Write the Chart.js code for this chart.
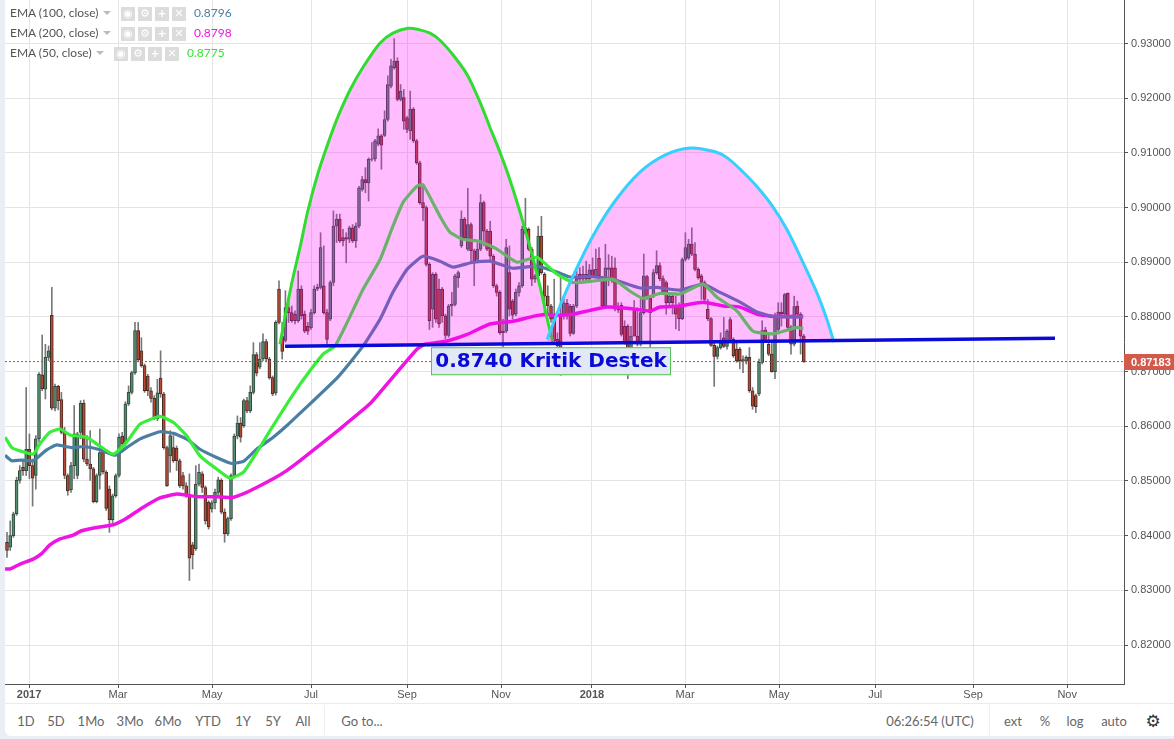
<!DOCTYPE html>
<html>
<head>
<meta charset="utf-8">
<title>EMA chart</title>
<script src="https://cdn.jsdelivr.net/npm/chart.js@4"></script>
<style>
  html, body { margin: 0; padding: 0; background: #eaeff6; overflow: hidden; }
  #page { position: relative; width: 1174px; height: 739px; font-family: Lato, "Liberation Sans", sans-serif; }
  canvas { position: absolute; left: 5px; top: 0; background: #fff; }
  #bar { position: absolute; left: 5px; top: 703px; width: 1169px; height: 33px; background: #fff; border-top: 1px solid #e8ecf0; box-sizing: border-box; border-bottom-left-radius: 6px; }
  .tb { position: absolute; top: 721px; transform: translate(-50%, -50%); font-size: 13px; color: #666; white-space: nowrap; }
  .sep { position: absolute; top: 705px; width: 1px; height: 30px; background: #eceff3; }
  .lg { position: absolute; font-size: 12px; color: #555; white-space: nowrap; line-height: 14px; }
  .ic { position: absolute; width: 14px; height: 14px; background: #dcdcdc; color: #fff; font: bold 11px/14px "DejaVu Sans"; text-align: center; }
  .tri { position: absolute; width: 0; height: 0; border-left: 4px solid transparent; border-right: 4px solid transparent; border-top: 4px solid #bbb; }
</style>
</head>
<body>
<div id="page">
  <canvas id="c" width="1169" height="703"></canvas>
  <div id="bar"></div>
</div>
<script>
// candles, one every two days or so
var opens = [
0.8388,0.8379,0.8400,0.8440,0.8501,0.8525,0.8519,0.8558,0.8528,0.8510,
0.8577,0.8694,0.8668,0.8726,0.8803,0.8633,0.8673,0.8649,0.8589,0.8510,
0.8484,0.8528,0.8510,0.8589,0.8642,0.8540,0.8531,0.8522,0.8462,0.8510,
0.8557,0.8516,0.8485,0.8429,0.8473,0.8510,0.8582,0.8568,0.8641,0.8662,
0.8698,0.8775,0.8738,0.8711,0.8692,0.8665,0.8651,0.8614,0.8688,0.8659,
0.8561,0.8546,0.8561,0.8560,0.8537,0.8510,0.8491,0.8473,0.8383,0.8376,
0.8494,0.8513,0.8488,0.8461,0.8449,0.8460,0.8479,0.8501,0.8443,0.8403,
0.8431,0.8510,0.8582,0.8606,0.8601,0.8647,0.8628,0.8662,0.8731,0.8708,
0.8723,0.8755,0.8723,0.8689,0.8661,0.8851,0.8764,0.8757,0.8817,0.8808,
0.8805,0.8793,0.8851,0.8805,0.8783,0.8780,0.8808,0.8851,0.8854,0.8857,
0.8808,0.8796,0.8863,0.8966,0.8979,0.8945,0.8945,0.8942,0.8963,0.8939,
0.8966,0.9033,0.9051,0.9045,0.9088,0.9089,0.9116,0.9131,0.9132,0.9161,
0.9222,0.9256,0.9268,0.9198,0.9201,0.9164,0.9140,0.9180,0.9122,0.9082,
0.9009,0.9000,0.8896,0.8814,0.8878,0.8851,0.8851,0.8802,0.8766,0.8820,
0.8823,0.8872,0.8930,0.8979,0.8924,0.8969,0.8921,0.8905,0.8924,0.9009,
0.8957,0.8957,0.8911,0.8857,0.8845,0.8774,0.8774,0.8881,0.8829,0.8805,
0.8845,0.8857,0.8954,0.8960,0.8924,0.8869,0.8875,0.8948,0.8878,0.8838,
0.8820,0.8802,0.8759,0.8802,0.8802,0.8825,0.8820,0.8770,0.8820,0.8878,
0.8869,0.8878,0.8869,0.8886,0.8875,0.8907,0.8869,0.8820,0.8887,0.8890,
0.8890,0.8820,0.8821,0.8783,0.8783,0.8725,0.8815,0.8765,0.8750,0.8808,
0.8874,0.8835,0.8838,0.8881,0.8894,0.8870,0.8863,0.8826,0.8838,0.8820,
0.8820,0.8797,0.8905,0.8908,0.8933,0.8915,0.8887,0.8875,0.8863,0.8814,
0.8797,0.8748,0.8728,0.8744,0.8762,0.8746,0.8795,0.8759,0.8741,0.8741,
0.8722,0.8719,0.8726,0.8665,0.8656,0.8659,0.8717,0.8776,0.8750,0.8732,
0.8700,0.8777,0.8809,0.8805,0.8843,0.8781,0.8750,0.8820,0.8805,0.8765];
var closes = [
0.8373,0.8400,0.8440,0.8501,0.8519,0.8519,0.8558,0.8528,0.8505,0.8577,
0.8695,0.8669,0.8726,0.8738,0.8633,0.8673,0.8647,0.8589,0.8510,0.8482,
0.8528,0.8586,0.8586,0.8642,0.8540,0.8531,0.8522,0.8462,0.8510,0.8552,
0.8517,0.8450,0.8429,0.8473,0.8510,0.8580,0.8568,0.8641,0.8662,0.8698,
0.8775,0.8722,0.8711,0.8665,0.8665,0.8651,0.8614,0.8661,0.8659,0.8561,
0.8491,0.8583,0.8537,0.8537,0.8491,0.8491,0.8473,0.8359,0.8365,0.8494,
0.8516,0.8488,0.8427,0.8416,0.8460,0.8479,0.8502,0.8443,0.8403,0.8431,
0.8510,0.8582,0.8606,0.8580,0.8647,0.8628,0.8662,0.8731,0.8697,0.8723,
0.8755,0.8723,0.8689,0.8659,0.8790,0.8790,0.8737,0.8817,0.8808,0.8793,
0.8793,0.8851,0.8802,0.8774,0.8774,0.8808,0.8851,0.8854,0.8927,0.8808,
0.8759,0.8863,0.8966,0.8979,0.8939,0.8939,0.8942,0.8963,0.8939,0.8966,
0.9036,0.9051,0.9045,0.9088,0.9089,0.9122,0.9131,0.9114,0.9161,0.9225,
0.9259,0.9268,0.9198,0.9213,0.9158,0.9143,0.9180,0.9122,0.9082,0.9009,
0.9000,0.8896,0.8793,0.8878,0.8796,0.8787,0.8802,0.8766,0.8820,0.8823,
0.8875,0.8881,0.8979,0.8945,0.8969,0.8921,0.8902,0.8924,0.9009,0.8957,
0.8924,0.8911,0.8857,0.8845,0.8771,0.8771,0.8927,0.8814,0.8803,0.8845,
0.8857,0.8960,0.8963,0.8924,0.8869,0.8875,0.8948,0.8881,0.8838,0.8820,
0.8796,0.8756,0.8747,0.8738,0.8826,0.8805,0.8770,0.8820,0.8870,0.8869,
0.8878,0.8869,0.8886,0.8875,0.8887,0.8875,0.8820,0.8890,0.8890,0.8869,
0.8814,0.8813,0.8768,0.8753,0.8725,0.8765,0.8765,0.8750,0.8808,0.8875,
0.8835,0.8808,0.8881,0.8894,0.8870,0.8845,0.8826,0.8838,0.8826,0.8805,
0.8797,0.8905,0.8927,0.8933,0.8915,0.8887,0.8872,0.8863,0.8832,0.8797,
0.8748,0.8728,0.8744,0.8752,0.8746,0.8774,0.8759,0.8729,0.8720,0.8720,
0.8719,0.8726,0.8665,0.8637,0.8636,0.8717,0.8775,0.8759,0.8732,0.8700,
0.8803,0.8809,0.8805,0.8841,0.8781,0.8750,0.8819,0.8805,0.8765,0.87183];
var highs = [
0.8406,0.8427,0.8443,0.8507,0.8528,0.8540,0.8671,0.8586,0.8540,0.8583,
0.8698,0.8767,0.8750,0.8747,0.8854,0.8677,0.8675,0.8662,0.8598,0.8513,
0.8534,0.8638,0.8589,0.8647,0.8648,0.8583,0.8592,0.8525,0.8513,0.8595,
0.8560,0.8519,0.8491,0.8476,0.8513,0.8586,0.8589,0.8645,0.8674,0.8701,
0.8790,0.8790,0.8762,0.8714,0.8695,0.8671,0.8656,0.8686,0.8738,0.8662,
0.8564,0.8592,0.8583,0.8564,0.8540,0.8516,0.8497,0.8513,0.8388,0.8528,
0.8531,0.8517,0.8491,0.8464,0.8464,0.8485,0.8507,0.8504,0.8449,0.8434,
0.8513,0.8586,0.8619,0.8616,0.8650,0.8653,0.8674,0.8753,0.8735,0.8753,
0.8769,0.8759,0.8726,0.8692,0.8793,0.8866,0.8790,0.8848,0.8835,0.8820,
0.8811,0.8884,0.8857,0.8811,0.8790,0.8814,0.8857,0.8860,0.8954,0.8930,
0.8814,0.8866,0.8994,0.8988,0.8988,0.8960,0.8954,0.8966,0.8969,0.8972,
0.9039,0.9057,0.9073,0.9091,0.9119,0.9125,0.9144,0.9134,0.9177,0.9241,
0.9271,0.9309,0.9274,0.9225,0.9216,0.9167,0.9213,0.9183,0.9125,0.9085,
0.9039,0.9003,0.8899,0.8881,0.8881,0.8869,0.8854,0.8805,0.8823,0.8845,
0.8878,0.8884,0.8994,0.8982,0.9035,0.8972,0.8924,0.8936,0.9024,0.9012,
0.8960,0.8975,0.8914,0.8860,0.8848,0.8796,0.8942,0.8930,0.8832,0.8851,
0.8863,0.8966,0.9017,0.8963,0.8927,0.8878,0.8966,0.8984,0.8881,0.8857,
0.8823,0.8869,0.8771,0.8872,0.8838,0.8832,0.8823,0.8823,0.8884,0.8890,
0.8893,0.8902,0.8896,0.8908,0.8924,0.8927,0.8872,0.8933,0.8914,0.8911,
0.8908,0.8826,0.8826,0.8793,0.8786,0.8783,0.8830,0.8817,0.8832,0.8915,
0.8876,0.8838,0.8887,0.8921,0.8899,0.8875,0.8866,0.8845,0.8841,0.8838,
0.8826,0.8908,0.8954,0.8942,0.8963,0.8936,0.8890,0.8878,0.8866,0.8832,
0.8799,0.8753,0.8747,0.8771,0.8799,0.8777,0.8799,0.8762,0.8753,0.8744,
0.8729,0.8729,0.8744,0.8671,0.8659,0.8723,0.8793,0.8781,0.8768,0.8753,
0.8807,0.8826,0.8826,0.8843,0.8844,0.8784,0.8838,0.8829,0.8808,0.8768];
var lows = [
0.8360,0.8373,0.8397,0.8437,0.8496,0.8510,0.8510,0.8504,0.8454,0.8485,
0.8571,0.8665,0.8650,0.8720,0.8630,0.8628,0.8630,0.8586,0.8504,0.8474,
0.8479,0.8504,0.8504,0.8577,0.8535,0.8528,0.8501,0.8460,0.8460,0.8485,
0.8513,0.8446,0.8406,0.8424,0.8470,0.8507,0.8561,0.8565,0.8638,0.8659,
0.8695,0.8718,0.8708,0.8662,0.8656,0.8644,0.8612,0.8610,0.8653,0.8558,
0.8490,0.8516,0.8534,0.8519,0.8488,0.8485,0.8470,0.8318,0.8339,0.8373,
0.8491,0.8479,0.8421,0.8412,0.8443,0.8449,0.8473,0.8440,0.8388,0.8400,
0.8428,0.8507,0.8577,0.8571,0.8598,0.8625,0.8625,0.8659,0.8692,0.8705,
0.8720,0.8718,0.8686,0.8656,0.8657,0.8787,0.8723,0.8754,0.8790,0.8790,
0.8787,0.8790,0.8796,0.8771,0.8768,0.8777,0.8805,0.8848,0.8851,0.8805,
0.8750,0.8793,0.8857,0.8936,0.8936,0.8930,0.8899,0.8936,0.8936,0.8927,
0.8963,0.9030,0.9027,0.9012,0.9085,0.9085,0.9113,0.9070,0.9130,0.9158,
0.9219,0.9253,0.9195,0.9195,0.9143,0.9137,0.9125,0.9119,0.9079,0.9006,
0.8976,0.8893,0.8777,0.8781,0.8790,0.8781,0.8790,0.8760,0.8763,0.8802,
0.8820,0.8854,0.8927,0.8942,0.8921,0.8899,0.8857,0.8902,0.8921,0.8930,
0.8921,0.8905,0.8854,0.8838,0.8768,0.8738,0.8771,0.8802,0.8796,0.8802,
0.8838,0.8854,0.8951,0.8921,0.8857,0.8863,0.8869,0.8878,0.8802,0.8805,
0.8790,0.8754,0.8744,0.8693,0.8796,0.8796,0.8765,0.8768,0.8817,0.8863,
0.8866,0.8863,0.8866,0.8872,0.8872,0.8869,0.8817,0.8817,0.8857,0.8863,
0.8811,0.8808,0.8765,0.8750,0.8687,0.8719,0.8765,0.8747,0.8747,0.8805,
0.8832,0.8735,0.8835,0.8878,0.8866,0.8842,0.8805,0.8820,0.8805,0.8778,
0.8775,0.8795,0.8902,0.8905,0.8912,0.8884,0.8869,0.8832,0.8829,0.8793,
0.8746,0.8673,0.8723,0.8741,0.8744,0.8741,0.8756,0.8726,0.8717,0.8705,
0.8698,0.8714,0.8662,0.8631,0.8625,0.8656,0.8714,0.8756,0.8729,0.8699,
0.8687,0.8774,0.8783,0.8802,0.8777,0.8732,0.8747,0.8802,0.8732,0.8717];

// moving averages : x is the candle number
var ema200X = [-0.6,0.9,4.1,8.2,10.8,13.4,16.6,20.7,23.3,28,33.2,37.4,42.6,47.8,53,57.2,60.3,65.5,70.7,74.9,78,83.2,87.4,91.6,104,113.4,120.6,128.1,130.6,137.5,143.8,150.9,158.1,164.4,168.8,170.6,176.9,182.2,187.5,193.8,200.9,204.1,210.3,217.5,223.8,229.1,234.4,239.4,248.8];
var ema200 = [0.8339,0.8339,0.8348,0.8357,0.8367,0.8383,0.8394,0.8401,0.8409,0.8415,0.8420,0.8432,0.8452,0.8469,0.8476,0.8473,0.8471,0.8471,0.8470,0.8479,0.8488,0.8504,0.8519,0.8537,0.8595,0.8641,0.8690,0.8741,0.8750,0.8756,0.8768,0.8787,0.8792,0.8801,0.8805,0.8803,0.8805,0.8812,0.8818,0.8816,0.8811,0.8818,0.8820,0.8827,0.8820,0.8818,0.8805,0.8801,0.8801];
var ema100X = [-0.6,1.5,4.1,8.2,12.4,15.5,20.2,23.9,29.1,33.8,37.4,41.6,47.8,52,56.1,60.3,65.5,70.2,73.9,78,83.2,87.4,91.6,103.4,111.3,116.6,120.6,125,130,135.3,139.4,145.6,150.9,158.1,165.6,171.9,175.9,182.2,189.4,197.8,203.1,210.3,217.5,222.8,229.1,234.4,239.4,248.8];
var ema100 = [0.8547,0.8537,0.8538,0.8537,0.8557,0.8566,0.8561,0.8563,0.8557,0.8547,0.8561,0.8577,0.8590,0.8587,0.8577,0.8558,0.8543,0.8532,0.8536,0.8558,0.8580,0.8601,0.8624,0.8690,0.8747,0.8796,0.8845,0.8887,0.8911,0.8902,0.8891,0.8900,0.8902,0.8889,0.8893,0.8882,0.8873,0.8874,0.8869,0.8853,0.8854,0.8849,0.8860,0.8845,0.8827,0.8809,0.8801,0.8800];
var ema50X = [-0.6,1.5,4.1,8.2,10.3,13.4,16.6,19.7,24.9,28,33.2,37.4,41.6,47.8,52,56.1,60.3,65.5,69.7,73.9,78,82.2,86.4,91.6,98.8,102.5,106.3,111.3,116.6,120.6,123.8,128.1,130,135.3,138.4,142.5,147.8,153.1,159.4,165.6,171.9,176.9,182.2,189.4,194.7,198.8,204.1,210.3,217.5,221.9,228.1,233.1,239.4,246.9,248.8];
var ema50 = [0.8580,0.8561,0.8555,0.8549,0.8568,0.8589,0.8595,0.8584,0.8580,0.8568,0.8549,0.8571,0.8604,0.8618,0.8607,0.8583,0.8546,0.8522,0.8505,0.8516,0.8552,0.8592,0.8631,0.8677,0.8732,0.8747,0.8790,0.8851,0.8905,0.8966,0.9010,0.9039,0.9042,0.8984,0.8955,0.8942,0.8938,0.8924,0.8900,0.8909,0.8878,0.8863,0.8865,0.8869,0.8847,0.8834,0.8843,0.8842,0.8860,0.8836,0.8811,0.8774,0.8769,0.8781,0.8778];

// hand drawn shapes on the chart
var domeGreenX = [85.3,86.9,89,91.6,94.1,97.2,100.9,103.4,107.2,111.3,116.6,120.6,125.3,129,132.2,135.3,139.4,143.8,147.8,150.9,154,157.2,160.3,163.4,166.6,169.1,170.6];
var domeGreen = [0.8750,0.8800,0.8862,0.8928,0.8996,0.9063,0.9127,0.9166,0.9215,0.9257,0.9301,0.9319,0.9328,0.9325,0.9319,0.9306,0.9279,0.9243,0.9193,0.9147,0.9102,0.9050,0.8992,0.8928,0.8855,0.8789,0.8754];
var domeCyanX = [168.8,172.8,176.9,183.1,190,197.8,205.6,213.4,221.3,225.3,230,234.4,239.4,243.8,248.4,253.1,256.3,258.4];
var domeCyan = [0.8759,0.8820,0.8875,0.8948,0.9012,0.9065,0.9096,0.9109,0.9102,0.9090,0.9065,0.9038,0.9001,0.8959,0.8904,0.8844,0.8794,0.8754];
var supportX = [86.9,327.5];
var support = [0.87466,0.87612];
var lastPrice = 0.87183;
var supportText = "0.8740 Kritik Destek";

// axes
var yTicks = [0.82,0.83,0.84,0.85,0.86,0.87,0.88,0.89,0.90,0.91,0.92,0.93];
var xTicks = [6.9,34.7,64.1,95,125,154.4,182.8,211.9,241.3,271.3,301.9,331.3];
var xLabels = ["2017","Mar","May","Jul","Sep","Nov","2018","Mar","May","Jul","Sep","Nov"];
var xMin = -0.625, xMax = 349.06;
var yMin = 0.81287, yMax = 0.93796;

function points(xs, ys) {
	var r = [];
	for (var i = 0; i < xs.length; i++) r.push({x: xs[i], y: ys[i]});
	return r;
}

var bodies = [], wicks = [], fills = [], edges = [];
for (var i = 0; i < closes.length; i++) {
	bodies.push({x: i, y: [opens[i], closes[i]]});
	wicks.push({x: i, y: [lows[i], highs[i]]});
	var up = closes[i] >= opens[i];
	fills.push(up ? "#4f8f70" : "#b44a33");
	edges.push(up ? "#34463d" : "#4a2b26");
}

function line(data, color, width, order, extra) {
	var d = {type: "line", data: data, borderColor: color, borderWidth: width, pointRadius: 0, tension: 0.15, order: order};
	for (var k in extra) d[k] = extra[k];
	return d;
}

// texts and tag that go over the plot
var overlay = {
	id: "overlay",
	afterDatasetsDraw: function(chart) {
		var c = chart.ctx, sx = chart.scales.x, sy = chart.scales.y;
		var cx = sx.getPixelForValue(170), cy = sy.getPixelForValue(0.8719);
		c.save();
		c.fillStyle = "#e3e9f4";
		c.strokeStyle = "#55c455";
		c.fillRect(cx - 120, cy - 14, 240, 28);
		c.strokeRect(cx - 119.5, cy - 13.5, 239, 27);
		c.fillStyle = "#0a0ad8";
		c.font = "bold 20px 'DejaVu Sans'";
		c.textAlign = "center";
		c.textBaseline = "middle";
		c.fillText(supportText, cx, cy + 1);
		c.restore();
	},
	afterDraw: function(chart) {
		var c = chart.ctx, sy = chart.scales.y, right = chart.chartArea.right;
		var py = Math.round(sy.getPixelForValue(lastPrice));
		c.save();
		c.fillStyle = "#d15a4a";
		c.fillRect(right, py - 8, 50, 16);
		c.fillStyle = "#fff";
		c.font = "bold 11px 'Liberation Sans'";
		c.textBaseline = "middle";
		c.fillText(lastPrice.toFixed(5), right + 7, py + 1);
		c.restore();
	}
};

Chart.defaults.font.family = "'Liberation Sans', Arial, sans-serif";
Chart.defaults.font.size = 11;
Chart.defaults.color = "#555";

new Chart(document.getElementById("c"), {
	type: "bar",
	data: {
		datasets: [
			{data: wicks, backgroundColor: "#777", barThickness: 1, grouped: false, order: 11},
			{data: bodies, backgroundColor: fills, borderColor: edges, borderWidth: 1, borderSkipped: false, barThickness: 3, grouped: false, order: 10},
			line(points(ema200X, ema200), "#ee14e2", 3.5, 9),
			line(points(ema100X, ema100), "#4a7fa3", 3.2, 8),
			line(points(ema50X, ema50), "#38ee38", 3.2, 7),
			line(points([xMin, xMax], [lastPrice, lastPrice]), "#b5483a", 1, 6, {borderDash: [2, 2], tension: 0}),
			line(points(domeGreenX, domeGreen), "#2fdc2f", 3, 3, {fill: {value: 0.8750}, backgroundColor: "rgba(255,0,255,0.26)", tension: 0.3}),
			line(points(domeCyanX, domeCyan), "#35d0fb", 3, 2, {fill: {value: 0.8756}, backgroundColor: "rgba(255,0,255,0.26)", tension: 0.3}),
			line(points(supportX, support), "#0a0ad8", 3.5, 1, {tension: 0})
		]
	},
	options: {
		responsive: false,
		animation: false,
		layout: {padding: 0},
		plugins: {legend: {display: false}, tooltip: {enabled: false}},
		scales: {
			x: {
				type: "linear", min: xMin, max: xMax, offset: false,
				grid: {offset: false, color: "#e4e4e4", tickColor: "#555", tickLength: 4},
				border: {color: "#555"},
				afterBuildTicks: function(s) { s.ticks = xTicks.map(function(v) { return {value: v}; }); },
				afterFit: function(s) { s.height = 19; s.paddingLeft = 0; s.paddingRight = 0; },
				ticks: {
					autoSkip: false, maxRotation: 0, padding: 0,
					callback: function(v, i) { return xLabels[i]; },
					font: function(ctx) {
						var yr = ctx.index == 0 || ctx.index == 6;
						return {weight: yr ? "bold" : "normal", size: 11};
					}
				}
			},
			y: {
				position: "right", min: yMin, max: yMax,
				grid: {color: "#e4e4e4", tickColor: "#555", tickLength: 4},
				border: {color: "#555"},
				afterBuildTicks: function(s) { s.ticks = yTicks.map(function(v) { return {value: v}; }); },
				afterFit: function(s) { s.width = 50; s.paddingTop = 0; s.paddingBottom = 0; },
				ticks: {padding: 3, callback: function(v) { return v.toFixed(5); }}
			}
		}
	},
	plugins: [overlay]
});

// legend rows top left
var page = document.getElementById("page");
var legNames = ["EMA (100, close)", "EMA (200, close)", "EMA (50, close)"];
var legValues = ["0.8796", "0.8798", "0.8775"];
var legColors = ["#4a7fa3", "#ee14e2", "#2fe82f"];
var legTop = [6, 26, 46];
var legTri = [103, 103, 96];
var legIcon = [121, 121, 114];
var legVal = [194, 194, 187];
var glyphs = ["\u25C9", "\u2699", "+", "\u2715"];

function add(cls, css, text) {
	var el = document.createElement("div");
	el.className = cls;
	el.style.cssText = css;
	if (text) el.textContent = text;
	page.appendChild(el);
}

for (var r = 0; r < 3; r++) {
	add("lg", "left:10px;top:" + legTop[r] + "px", legNames[r]);
	add("tri", "left:" + legTri[r] + "px;top:" + (legTop[r] + 5) + "px");
	for (var g = 0; g < 4; g++) {
		add("ic", "left:" + (legIcon[r] + g * 17) + "px;top:" + (legTop[r] + 1) + "px", glyphs[g]);
	}
	add("lg", "left:" + legVal[r] + "px;top:" + legTop[r] + "px;color:" + legColors[r], legValues[r]);
}

// toolbar at the bottom
var tbText = ["1D","5D","1Mo","3Mo","6Mo","YTD","1Y","5Y","All","Go to...","06:26:54 (UTC)","ext","%","log","auto"];
var tbX = [26,56,91,130,168,208,243,273,303,362,930,1013,1045,1075,1114];
for (var t = 0; t < tbText.length; t++) {
	add("tb", "left:" + tbX[t] + "px", tbText[t]);
}
add("tb", "left:1153px;font:17px 'DejaVu Sans';color:#333", "\u2699");
add("sep", "left:324px");
add("sep", "left:989px");
</script>
</body>
</html>
